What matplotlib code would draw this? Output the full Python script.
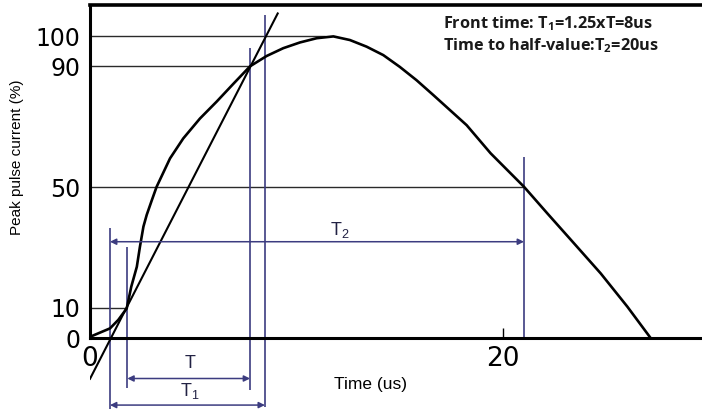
import matplotlib
matplotlib.use("Agg")
import matplotlib.pyplot as plt

# ---------------- data ----------------
curve_t = [0.0, 0.97, 1.37, 1.78, 2.0, 2.27, 2.42, 2.59, 2.75, 3.0, 3.23, 3.88,
           4.52, 5.33, 6.14, 6.95, 7.76, 8.56, 9.37, 10.18,
           10.99, 11.8, 12.6, 13.41, 14.22, 15.02, 15.83, 16.64, 17.45, 18.26,
           19.42, 21.04, 22.17, 23.46, 24.76, 26.05, 27.18]
curve_y = [0.4, 3.2, 6.0, 9.8, 17.0, 23.6, 30.2, 36.9, 40.8, 45.7, 50.1, 59.5,
           66.1, 72.7, 78.3, 84.2, 90.0, 93.4, 96.0, 97.9,
           99.3, 99.9, 98.7, 96.5, 93.7, 89.8, 85.4, 80.5, 75.5, 70.5,
           61.2, 50.1, 41.3, 31.4, 21.4, 10.4, 0.0]

tangent_t = [0.0, 9.1]
tangent_y = [-13.5, 107.5]

level_values = [100, 90, 50, 10]
level_ends = [11.4, 7.76, 21.04, 1.81]

y_ticks = [0, 10, 50, 90, 100]
y_ticklabels = ["0", "10", "50", "90", "100"]
x_ticks = [0, 20]
x_ticklabels = ["0", "20"]

# vertical marker lines: time, y_bottom, y_top
vline_t = [0.97, 1.81, 7.76, 8.48, 21.04]
vline_bottom = [-23.5, -16.6, -17.2, -23.0, 0.0]
vline_top = [36.3, 30.2, 95.9, 107.0, 60.0]

# dimension arrows: start, end, level
arrow_names = ["T2", "T", "T1"]
arrow_start = [0.97, 1.81, 0.97]
arrow_end = [21.04, 7.76, 8.48]
arrow_level = [31.9, -13.4, -22.2]

label_texts = [r"$\mathregular{T_2}$", "T", r"$\mathregular{T_1}$"]
label_t = [12.1, 4.85, 4.85]
label_y = [35.8, -8.4, -17.4]

info_lines = [r"Front time: $\mathregular{T_1}$=1.25xT=8us",
              r"Time to half-value:$\mathregular{T_2}$=20us"]

# ---------------- figure ----------------
W, H = 702, 409
fig = plt.figure(figsize=(W / 100, H / 100), dpi=100)
ax = fig.add_axes([90 / W, 0, 612 / W, 404 / H])
ax.set_xlim(0, 29.67)
ax.set_ylim(-23.5, 110.3)

blue = "#3c3c80"
dark = "#2a2a2a"

# reference levels
for v, e in zip(level_values, level_ends):
    ax.plot([0, e], [v, v], color=dark, lw=1.0, solid_capstyle="butt")

# vertical markers
for t, b, tp in zip(vline_t, vline_bottom, vline_top):
    ax.plot([t, t], [b, tp], color=blue, lw=1.2, solid_capstyle="butt",
            clip_on=False)

# curve and tangent
ax.plot(curve_t, curve_y, color="black", lw=1.9, solid_joinstyle="round")
ax.plot(tangent_t, tangent_y, color="black", lw=1.5)

# arrows
for s, e, lv in zip(arrow_start, arrow_end, arrow_level):
    ax.annotate("", xy=(e, lv), xytext=(s, lv),
                arrowprops=dict(arrowstyle="<|-|>", color=blue, lw=1.1,
                                mutation_scale=9, shrinkA=0, shrinkB=0),
                annotation_clip=False)

for txt, t, y in zip(label_texts, label_t, label_y):
    ax.text(t, y, txt, ha="center", va="center", fontsize=13,
            color="#222244", family="Liberation Sans")

# spines
ax.spines["right"].set_visible(False)
ax.spines["top"].set_linewidth(2.6)
ax.spines["left"].set_linewidth(2.2)
ax.spines["left"].set_bounds(0, 110.3)
ax.spines["bottom"].set_position(("data", 0))
ax.spines["bottom"].set_linewidth(2.2)

ax.set_yticks(y_ticks)
ax.set_yticklabels(y_ticklabels, fontsize=17, family="DejaVu Sans")
ax.tick_params(axis="y", length=0, pad=7)
ax.set_xticks(x_ticks)
ax.set_xticklabels(x_ticklabels, fontsize=19, family="DejaVu Sans")
ax.tick_params(axis="x", direction="in", length=7, width=1.0, pad=6)

# info text
for i, line in enumerate(info_lines):
    fig.text(443 / W, 1 - (24 + 21.7 * i) / H, line, ha="left", va="center",
             fontsize=11.7, fontweight="bold", family="Open Sans",
             color="#1a1a1a")

fig.text(17 / W, 1 - 157 / H, "Peak pulse current (%)", rotation=90,
         ha="center", va="center", fontsize=11, family="Liberation Sans")
fig.text(370 / W, 1 - 385 / H, "Time (us)", ha="center", va="center",
         fontsize=12.5, family="Liberation Sans")

fig.savefig("out.png", dpi=100)
